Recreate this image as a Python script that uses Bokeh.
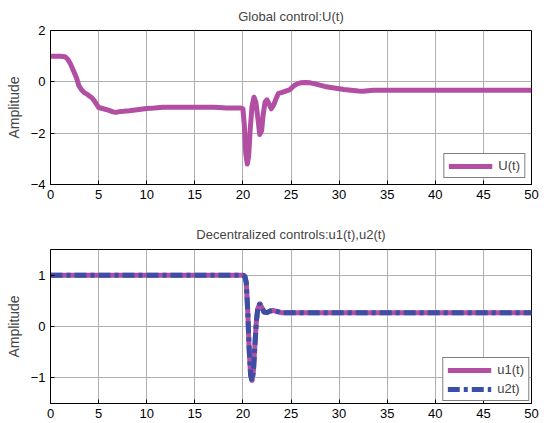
from bokeh.plotting import figure
from bokeh.layouts import column
from bokeh.models import Legend, LegendItem, FixedTicker, Range1d
from bokeh.embed import file_html
from bokeh.resources import INLINE

# ---- data ----
t_u = [0, 0.5, 1.0, 1.5, 1.8, 2.1, 2.4, 2.7, 2.95, 3.2, 3.5, 3.8, 4.0, 4.3, 4.6, 5.0, 5.5, 6.0, 6.5,
       6.8, 7.2, 7.6, 8.2, 8.6, 9.2, 10.0, 10.8, 11.7, 13.0, 15.0, 17.0, 17.5, 18.3, 19.0, 19.8,
       20.0, 20.15, 20.3, 20.45, 20.6, 20.75, 20.95, 21.15, 21.35, 21.55, 21.75, 21.95, 22.1, 22.3,
       22.5, 22.7, 22.95, 23.2, 23.45, 23.7, 24.0, 24.3, 24.6, 24.9, 25.3, 25.7, 26.0, 26.5, 27.0,
       27.5, 28.0, 28.5, 29.0, 29.5, 30.0, 30.5, 31.0, 31.5, 32.0, 32.5, 33.0, 33.6, 34.5, 36.0,
       40.0, 45.0, 50.0]
u = [1.0, 1.0, 1.0, 0.98, 0.88, 0.68, 0.42, 0.16, -0.15, -0.3, -0.42, -0.48, -0.54, -0.62, -0.76,
     -1.0, -1.05, -1.1, -1.17, -1.19, -1.16, -1.15, -1.13, -1.11, -1.08, -1.04, -1.02, -0.99, -0.99,
     -0.99, -0.99, -1.0, -1.02, -1.02, -1.02,
     -1.05, -1.7, -2.8, -3.2, -2.9, -1.9, -0.95, -0.6, -0.8, -1.4, -2.05, -1.9, -1.3, -0.8,
     -0.7, -0.85, -1.05, -0.9, -0.65, -0.45, -0.42, -0.38, -0.34, -0.3, -0.15, -0.07, -0.04,
     -0.03, -0.04, -0.08, -0.13, -0.18, -0.21, -0.24, -0.27, -0.3, -0.32, -0.34, -0.36, -0.37,
     -0.35, -0.33, -0.33, -0.33, -0.33, -0.33, -0.33]

t_d = [0, 5, 10, 15, 20.0, 20.2, 20.35, 20.5, 20.65, 20.8, 20.95, 21.1, 21.25, 21.4, 21.55, 21.75,
       21.95, 22.2, 22.5, 22.8, 23.2, 23.6, 24.0, 25.0, 30.0, 35.0, 40.0, 45.0, 50.0]
u1 = [1.0, 1.0, 1.0, 1.0, 1.0, 0.98, 0.85, 0.3, -0.45, -0.95, -1.05, -0.85, -0.35, 0.1, 0.35,
      0.44, 0.38, 0.28, 0.27, 0.3, 0.31, 0.29, 0.27, 0.27, 0.27, 0.27, 0.27, 0.27, 0.27]
u2 = [1.0, 1.0, 1.0, 1.0, 1.0, 0.98, 0.86, 0.32, -0.43, -0.94, -1.06, -0.86, -0.36, 0.1, 0.36,
      0.45, 0.38, 0.28, 0.27, 0.3, 0.31, 0.29, 0.27, 0.27, 0.27, 0.27, 0.27, 0.27, 0.27]

x_ticks = [0, 5, 10, 15, 20, 25, 30, 35, 40, 45, 50]
y_ticks_top = [-4, -2, 0, 2]
y_ticks_bot = [-1, 0, 1]

MAGENTA = "#B24FA3"
BLUE = "#3B4FA6"
FONT = "Liberation Sans"


def style(p, yticks, title_standoff):
    p.title.text_font = FONT
    p.title.text_font_size = "13px"
    p.title.text_font_style = "normal"
    p.title.align = "center"
    p.title.standoff = title_standoff
    p.outline_line_color = "black"
    p.outline_line_width = 1
    p.outline_line_alpha = 1
    for ax in (p.xaxis[0], p.yaxis[0]):
        ax.axis_line_color = "black"
        ax.major_tick_line_color = "black"
        ax.minor_tick_line_color = None
        ax.major_tick_in = 4
        ax.major_tick_out = 0
        ax.major_label_text_font = FONT
        ax.major_label_text_font_size = "13px"
        ax.major_label_text_color = "black"
        ax.major_label_standoff = 5
    p.xaxis[0].ticker = FixedTicker(ticks=x_ticks)
    p.yaxis[0].ticker = FixedTicker(ticks=yticks)
    p.yaxis[0].axis_label = "Amplitude"
    p.yaxis[0].axis_label_text_font = FONT
    p.yaxis[0].axis_label_text_font_size = "14px"
    p.yaxis[0].axis_label_text_font_style = "normal"
    p.yaxis[0].axis_label_standoff = 6
    p.grid.grid_line_color = "#b0b0b0"
    p.grid.grid_line_width = 1
    p.grid.grid_line_alpha = 1
    p.background_fill_color = "white"
    p.border_fill_color = "white"


p1 = figure(width=553, height=210, output_backend="svg", toolbar_location=None,
            x_range=Range1d(0, 50), y_range=Range1d(-4, 2),
            title="Global control:U(t)",
            min_border_left=50, min_border_right=22, min_border_top=30, min_border_bottom=26)
style(p1, y_ticks_top, 13)
r_u = p1.line(t_u, u, line_color=MAGENTA, line_width=5, line_join="round")
leg1 = Legend(items=[LegendItem(label="U(t)", renderers=[r_u])], location="bottom_right",
              border_line_color="black", border_line_width=1, label_text_font=FONT,
              label_text_font_size="13px", glyph_width=44, glyph_height=14,
              padding=4, spacing=2, margin=6, label_standoff=6,
              background_fill_alpha=1)
p1.add_layout(leg1)

p2 = figure(width=553, height=213, output_backend="svg", toolbar_location=None,
            x_range=Range1d(0, 50), y_range=Range1d(-1.5, 1.5),
            title="Decentralized controls:u1(t),u2(t)",
            min_border_left=50, min_border_right=22, min_border_top=39, min_border_bottom=20)
style(p2, y_ticks_bot, 16)
r1 = p2.line(t_d, u1, line_color=MAGENTA, line_width=5, line_join="round")
r2 = p2.line(t_d, u2, line_color=BLUE, line_width=5, line_dash="12 4 4 4")
leg2 = Legend(items=[LegendItem(label="u1(t)", renderers=[r1]),
                     LegendItem(label="u2t)", renderers=[r2])], location="bottom_right",
              border_line_color="black", border_line_width=1, label_text_font=FONT,
              label_text_font_size="13px", glyph_width=44, glyph_height=14,
              padding=4, spacing=4, margin=2, label_standoff=6,
              background_fill_alpha=1)
p2.add_layout(leg2)

layout = column(p1, p2, spacing=0)
open("out.html", "w").write(file_html(layout, INLINE))
